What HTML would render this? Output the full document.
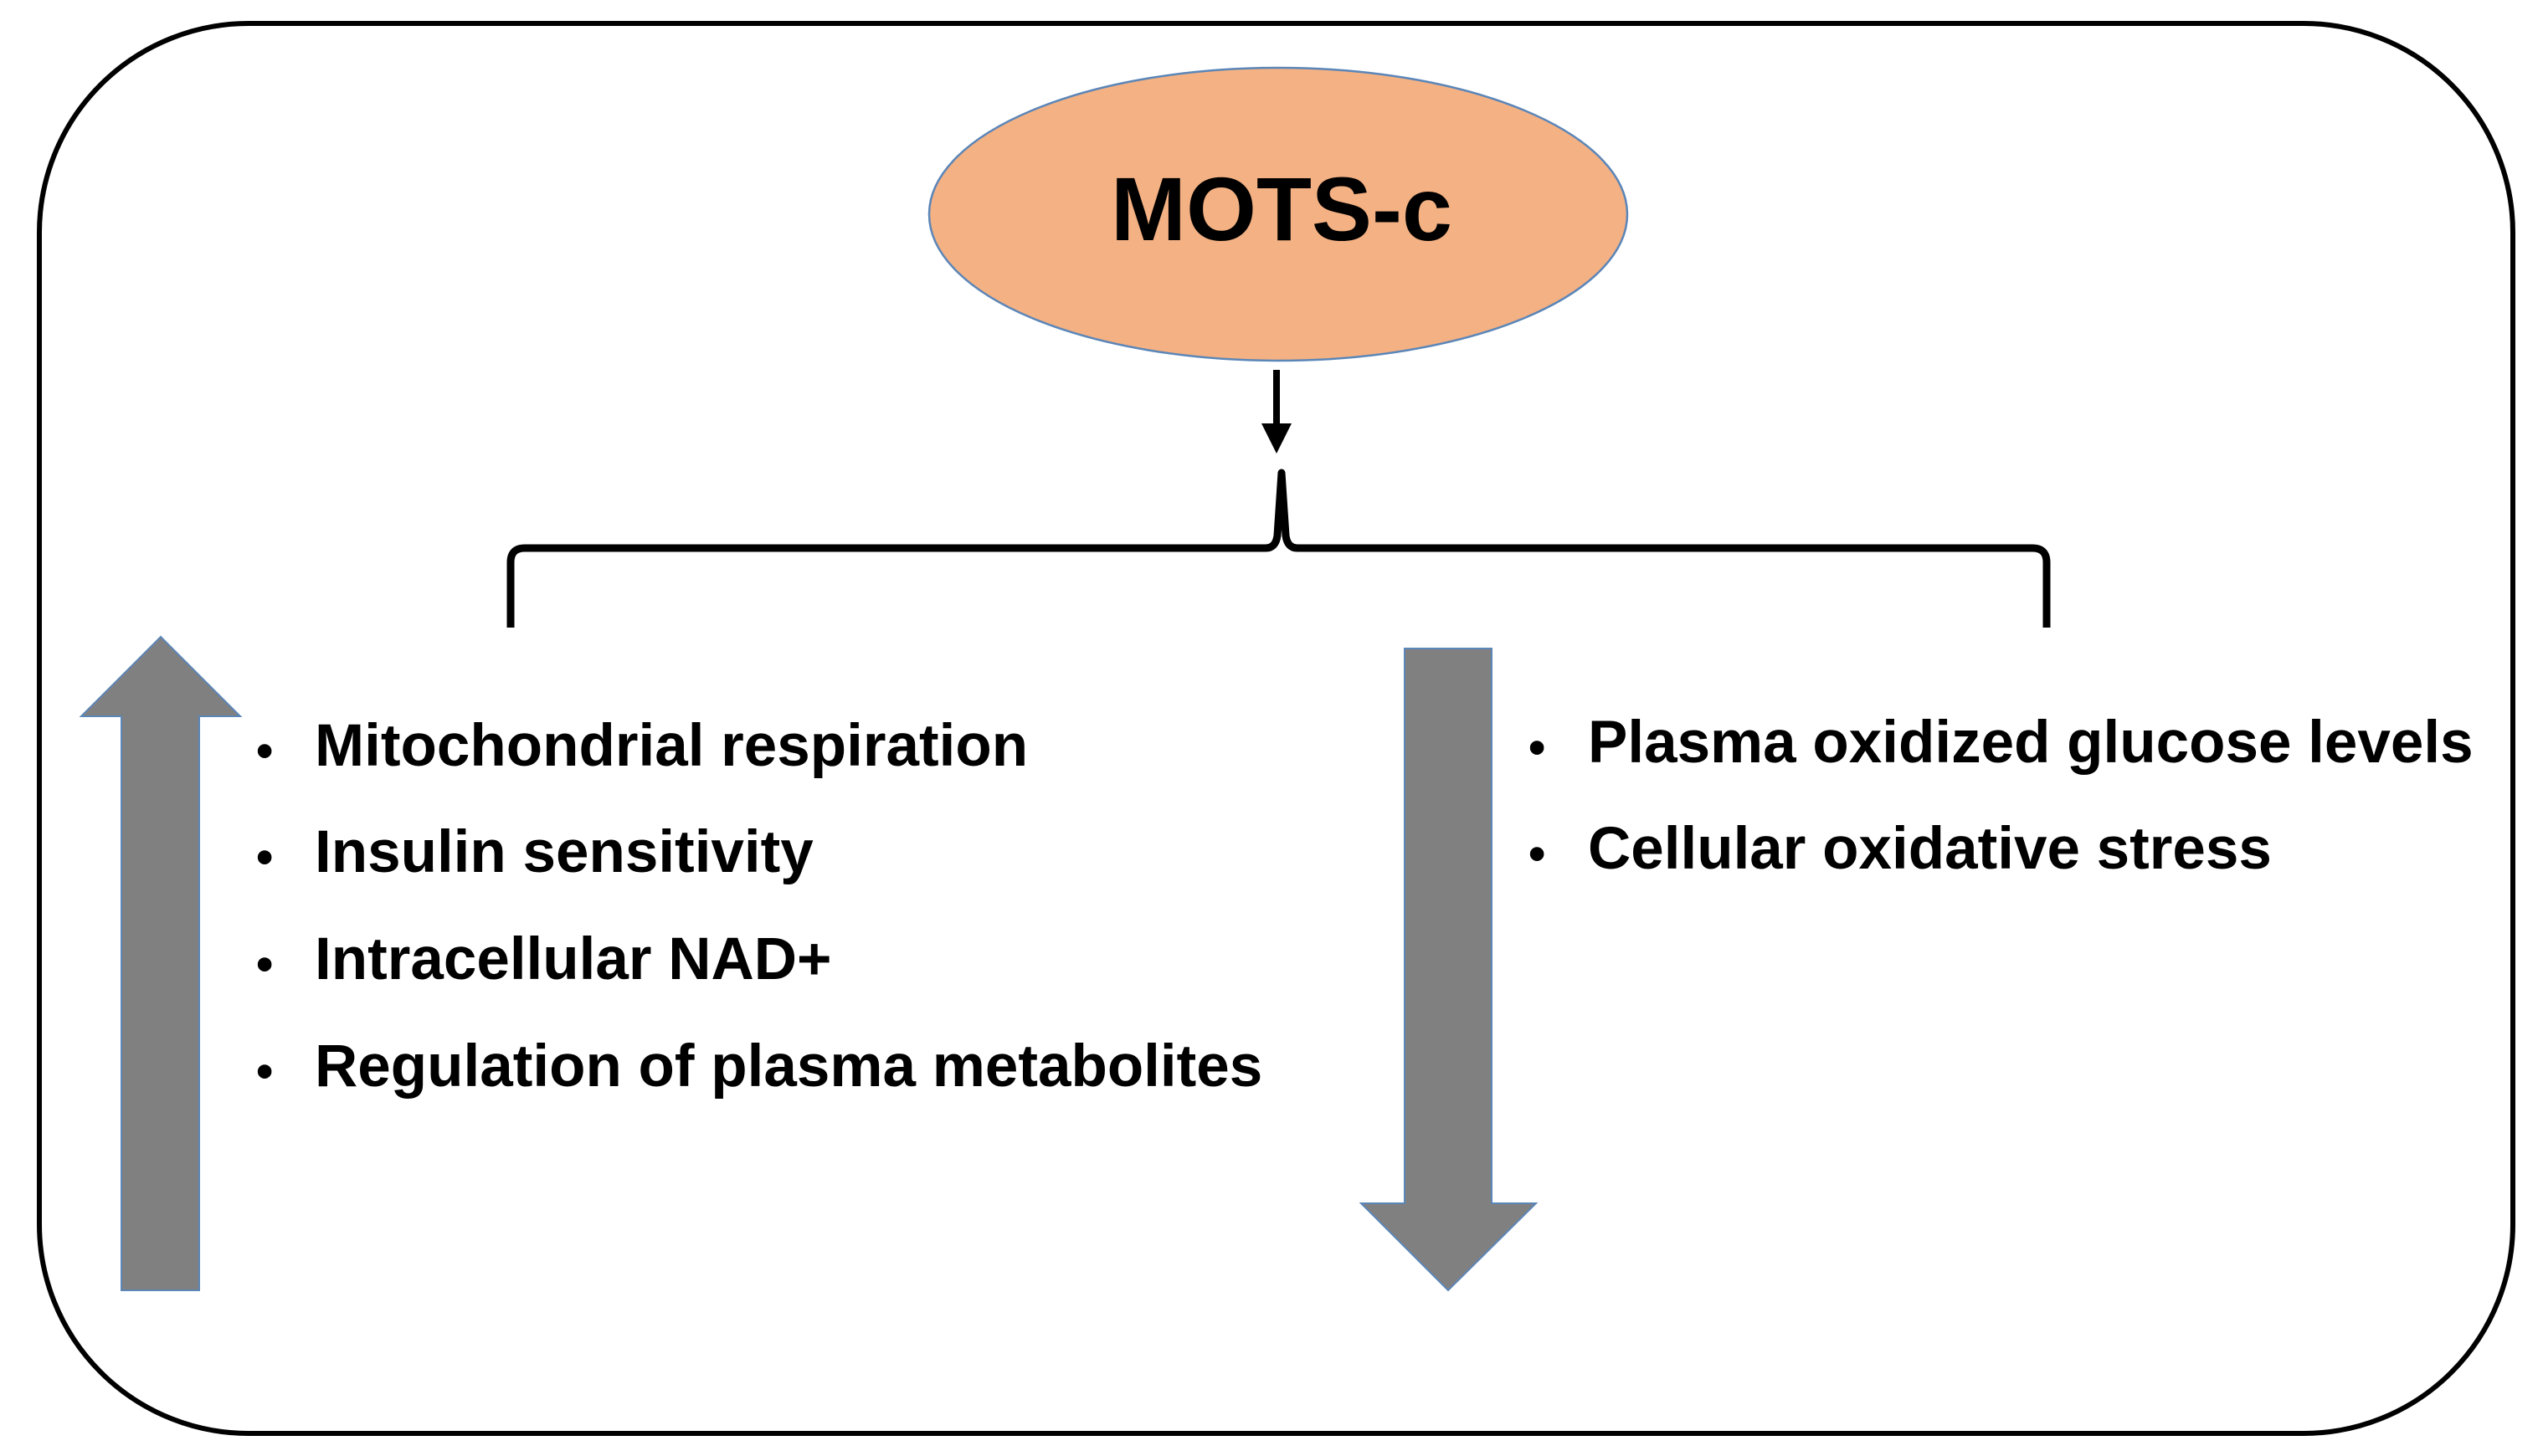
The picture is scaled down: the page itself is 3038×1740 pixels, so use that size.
<!DOCTYPE html>
<html><head><meta charset="utf-8"><style>
html,body{margin:0;padding:0;background:#fff;}
svg{display:block;}
text{font-family:"Liberation Sans",Arial,sans-serif;font-weight:bold;fill:#000;}
</style></head><body>
<svg width="3038" height="1740" viewBox="0 0 3038 1740" xmlns="http://www.w3.org/2000/svg">
<rect x="47" y="28" width="2955" height="1685" rx="250" ry="250" fill="#fff" stroke="#000" stroke-width="6"/>
<ellipse cx="1527" cy="256" rx="417" ry="175" fill="#f4b183" stroke="#5b86b8" stroke-width="2.5"/>
<text x="1531" y="287" font-size="108" text-anchor="middle">MOTS-c</text>
<line x1="1525" y1="442" x2="1525" y2="512" stroke="#000" stroke-width="8"/>
<polygon points="1507,506 1543,506 1525,542" fill="#000"/>
<path d="M610,750 L610,672 Q610,655 627,655 L1512,655 Q1524,655 1526,640 L1531,565 L1536,640 Q1538,655 1550,655 L2428,655 Q2445,655 2445,672 L2445,750" fill="none" stroke="#000" stroke-width="9" stroke-linejoin="round"/>
<polygon points="192,761 287,856 238,856 238,1542 145,1542 145,856 97,856" fill="#808080" stroke="#5b86b8" stroke-width="2"/>
<polygon points="1678,775 1782,775 1782,1438 1835,1438 1730,1542 1626,1438 1678,1438" fill="#808080" stroke="#5b86b8" stroke-width="2"/>
<g font-size="71">
<text x="306" y="917" font-size="58">•</text><text x="376" y="915">Mitochondrial respiration</text>
<text x="306" y="1044" font-size="58">•</text><text x="376" y="1042">Insulin sensitivity</text>
<text x="306" y="1172" font-size="58">•</text><text x="376" y="1170">Intracellular NAD+</text>
<text x="306" y="1300" font-size="58">•</text><text x="376" y="1298">Regulation of plasma metabolites</text>
<text x="1826" y="913" font-size="58">•</text><text x="1897" y="911">Plasma oxidized glucose levels</text>
<text x="1826" y="1040" font-size="58">•</text><text x="1897" y="1038">Cellular oxidative stress</text>
</g>
</svg>
</body></html>
